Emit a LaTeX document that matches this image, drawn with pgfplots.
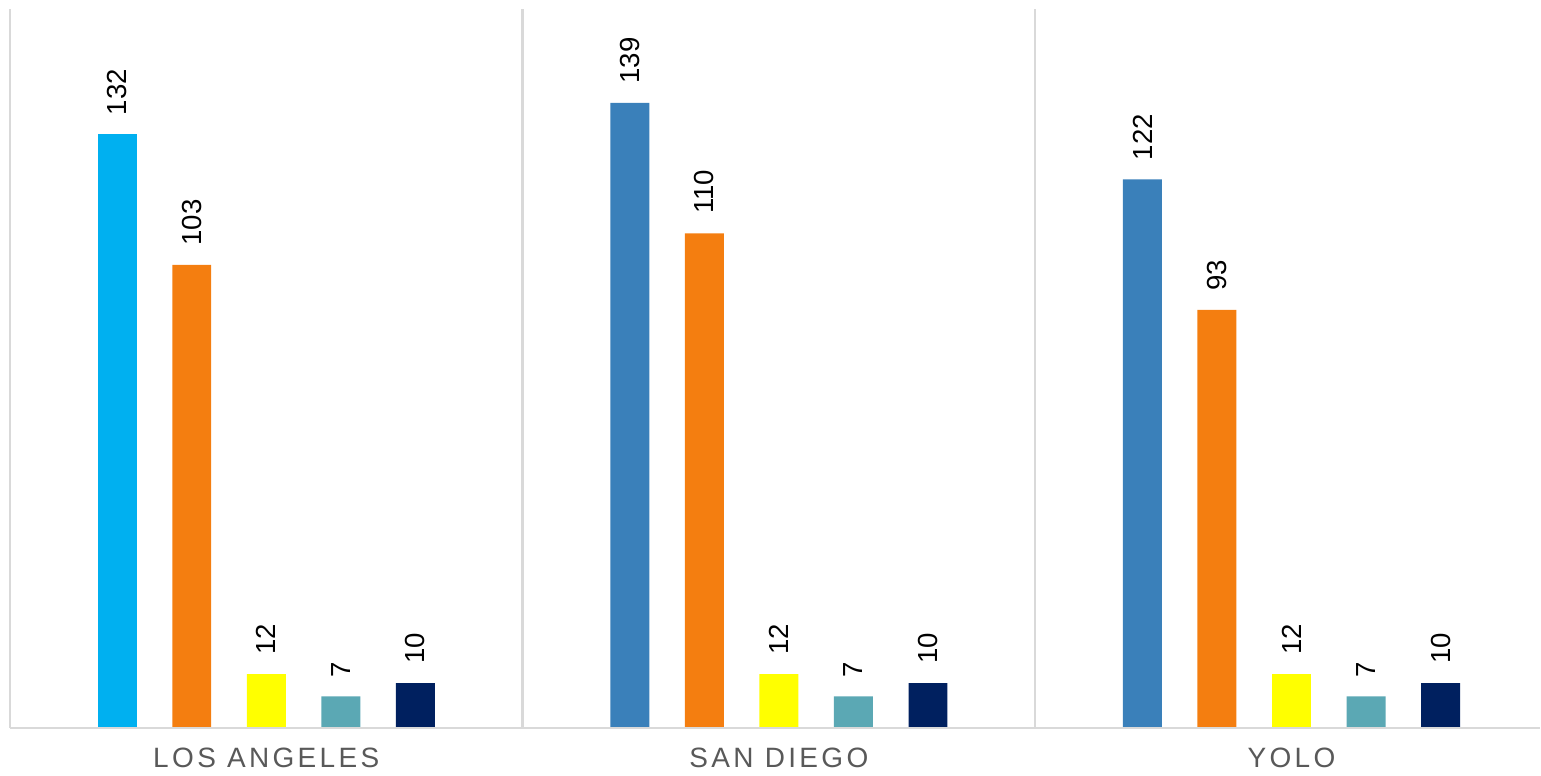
\documentclass[border=0pt]{standalone}
\usepackage{pgfplots}
\pgfplotsset{compat=1.18}
\usepackage{fontspec}
\setmainfont{Liberation Sans}
\newfontfamily\catfont[LetterSpace=12]{Liberation Sans}
\definecolor{cLA}{HTML}{00B0F0}
\definecolor{cBlue}{HTML}{3A80BA}
\definecolor{cOrange}{HTML}{F47E10}
\definecolor{cYellow}{HTML}{FFFF00}
\definecolor{cTeal}{HTML}{5BA8B4}
\definecolor{cNavy}{HTML}{00205F}
\definecolor{gridgray}{HTML}{D9D9D9}
\definecolor{labelgray}{HTML}{595959}
\begin{document}
\begin{tikzpicture}
\begin{axis}[
  scale only axis, width=765.5pt, height=360pt,
  xmin=-0.5, xmax=2.4844, ymin=0, ymax=160,
  ybar, bar width=19.5pt,
  /pgf/number format/assume math mode=true,
  axis line style={draw=none},
  ytick=\empty,
  xtick={0,1,2}, xticklabels={LOS ANGELES, SAN DIEGO, YOLO},
  major x tick style={draw=none},
  extra x ticks={-0.5,0.5,1.5}, extra x tick labels={},
  extra x tick style={grid=major, major grid style={draw=gridgray, line width=1.2pt}, major tick style={draw=none}},
  xticklabel style={font=\catfont\fontsize{14}{14}\selectfont, text=labelgray, anchor=north, inner sep=0pt, yshift=-5.5pt},
  nodes near coords,
  nodes near coords style={rotate=90, anchor=west, inner xsep=9.5pt, inner ysep=0pt, font=\fontsize{13.8}{14}\selectfont, text=black},
  clip=false,
]
\addplot[fill=cLA, draw=none, bar shift=-74.6pt] coordinates {(0,132)};
\addplot[fill=cBlue, draw=none, bar shift=-74.6pt] coordinates {(1,139) (2,122)};
\addplot[fill=cOrange, draw=none, bar shift=-37.3pt] coordinates {(0,103) (1,110) (2,93)};
\addplot[fill=cYellow, draw=none, bar shift=0pt] coordinates {(0,12) (1,12) (2,12)};
\addplot[fill=cTeal, draw=none, bar shift=37.3pt] coordinates {(0,7) (1,7) (2,7)};
\addplot[fill=cNavy, draw=none, bar shift=74.6pt] coordinates {(0,10) (1,10) (2,10)};
\draw[gridgray, line width=1.2pt] (rel axis cs:0,0) -- (rel axis cs:1,0);
\end{axis}
\path (current axis.south west) ++(-5pt,-24pt);
\path (current axis.north east) ++(0pt,2.5pt);
\end{tikzpicture}
\end{document}
